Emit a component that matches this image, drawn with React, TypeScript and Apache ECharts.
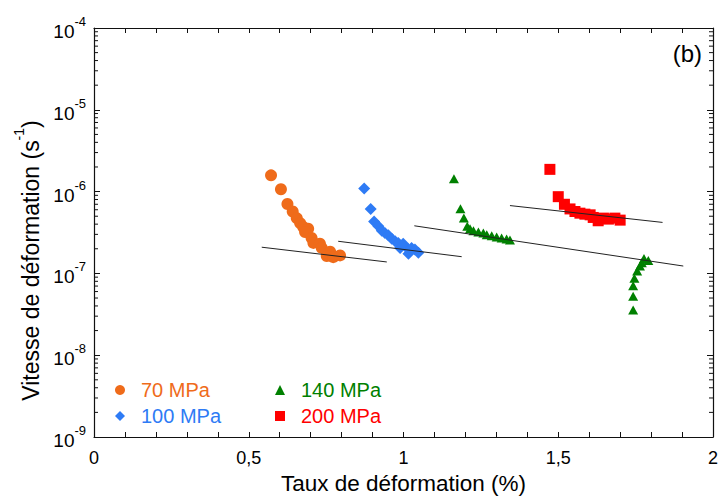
import React, { useEffect, useRef } from "react";
import * as echarts from "echarts";

const FONT = "'Liberation Sans', Arial, Helvetica, sans-serif";

const COLOR_70 = "#EF6B1A";
const COLOR_100 = "#2E7BF5";
const COLOR_140 = "#008000";
const COLOR_200 = "#FF0000";

// x: strain (%), y: strain rate (s^-1)
const series70x = [0.572, 0.604, 0.625, 0.642, 0.655, 0.666, 0.676, 0.692, 0.682, 0.703, 0.709, 0.730, 0.736, 0.763, 0.752, 0.773, 0.795];
const series70y = [1.58e-6, 1.07e-6, 7.06e-7, 5.71e-7, 4.74e-7, 4.12e-7, 3.69e-7, 3.52e-7, 3.21e-7, 2.71e-7, 2.36e-7, 2.30e-7, 2.05e-7, 1.84e-7, 1.63e-7, 1.58e-7, 1.66e-7];

const series100x = [0.873, 0.894, 0.905, 0.919, 0.930, 0.940, 0.951, 0.962, 0.973, 0.983, 0.999, 0.989, 1.016, 1.026, 1.037, 1.048, 1.016];
const series100y = [1.09e-6, 6.14e-7, 4.32e-7, 3.76e-7, 3.33e-7, 3.12e-7, 2.92e-7, 2.66e-7, 2.47e-7, 2.36e-7, 2.30e-7, 2.05e-7, 1.96e-7, 2.05e-7, 1.96e-7, 1.79e-7, 1.74e-7];

const series140Ax = [1.163, 1.184, 1.195, 1.206, 1.215, 1.226, 1.242, 1.258, 1.269, 1.285, 1.301, 1.317, 1.333, 1.344];
const series140Ay = [1.44e-6, 6.18e-7, 4.74e-7, 3.76e-7, 3.52e-7, 3.33e-7, 3.21e-7, 3.12e-7, 2.97e-7, 2.89e-7, 2.79e-7, 2.71e-7, 2.64e-7, 2.56e-7];
const series140Bx = [1.742, 1.742, 1.742, 1.746, 1.755, 1.764, 1.770, 1.777, 1.791];
const series140By = [3.57e-8, 5.24e-8, 7.06e-8, 8.73e-8, 1.07e-7, 1.23e-7, 1.35e-7, 1.52e-7, 1.44e-7];

const series200x = [1.473, 1.500, 1.520, 1.538, 1.554, 1.570, 1.586, 1.603, 1.613, 1.629, 1.646, 1.662, 1.683, 1.700];
const series200y = [1.87e-6, 8.67e-7, 7.00e-7, 6.14e-7, 5.71e-7, 5.45e-7, 5.30e-7, 5.20e-7, 4.83e-7, 4.40e-7, 4.74e-7, 4.61e-7, 4.74e-7, 4.48e-7];

// fitted lines: [x1, x2], [y1, y2]
const fit70x = [0.542, 0.946];
const fit70y = [2.09e-7, 1.38e-7];
const fit100x = [0.789, 1.188];
const fit100y = [2.47e-7, 1.60e-7];
const fit140x = [1.035, 1.904];
const fit140y = [3.82e-7, 1.23e-7];
const fit200x = [1.344, 1.837];
const fit200y = [6.75e-7, 4.20e-7];

const legendNames = ["70 MPa", "100 MPa", "140 MPa", "200 MPa"];
const xTickLabels: Record<string, string> = { "0": "0", "0.5": "0,5", "1": "1", "1.5": "1,5", "2": "2" };
const yMin = 1e-9;
const yMax = 1e-4;

const zip = (xs: number[], ys: number[]) => xs.map((x, i) => [x, ys[i]]);

export default function App() {
  const ref = useRef<HTMLDivElement>(null);

  useEffect(() => {
    if (!ref.current) return;
    const chart = echarts.init(ref.current, undefined, { renderer: "svg" });

    const minorTicks: number[][] = [];
    for (let e = -9; e < -4; e++) {
      for (let m = 2; m <= 9; m++) minorTicks.push([0, m * Math.pow(10, e)]);
    }

    const axisLineStyle = { color: "#111", width: 1.2 };
    const xAxisBase = {
      type: "value",
      min: 0,
      max: 2,
      interval: 0.5,
      axisLine: { show: true, onZero: false, lineStyle: axisLineStyle },
      axisTick: { show: true, inside: true, length: 5, lineStyle: { color: "#111" } },
      minorTick: { show: true, splitNumber: 5, length: 5, lineStyle: { color: "#111" } },
      splitLine: { show: false },
      minorSplitLine: { show: false },
    };
    const yAxisBase = {
      type: "log",
      logBase: 10,
      min: yMin,
      max: yMax,
      axisLine: { show: true, onZero: false, lineStyle: axisLineStyle },
      axisTick: { show: true, inside: true, length: 6, lineStyle: { color: "#111" } },
      minorTick: { show: false },
      splitLine: { show: false },
    };

    const scatterBase = { type: "scatter", z: 2, xAxisIndex: 0, yAxisIndex: 0 };
    const lineBase = {
      type: "line",
      z: 4,
      symbol: "none",
      lineStyle: { color: "#222", width: 1 },
      xAxisIndex: 0,
      yAxisIndex: 0,
    };

    const legendText = { fontSize: 20, fontFamily: FONT, padding: [0, 0, 0, 11] };

    chart.setOption({
      animation: false,
      backgroundColor: "#fff",
      textStyle: { fontFamily: FONT },
      grid: { left: 94, right: 10, top: 28, bottom: 59 },
      xAxis: [
        {
          ...xAxisBase,
          position: "bottom",
          axisLabel: {
            show: true,
            margin: 12,
            fontSize: 18,
            color: "#000",
            fontFamily: FONT,
            formatter: (v: number) => xTickLabels[String(v)] ?? String(v),
          },
          name: "Taux de déformation (%)",
          nameLocation: "middle",
          nameGap: 35,
          nameTextStyle: { fontSize: 22.5, color: "#000", fontFamily: FONT },
        },
        { ...xAxisBase, position: "top", axisLabel: { show: false } },
      ],
      yAxis: [
        {
          ...yAxisBase,
          position: "left",
          axisLabel: {
            show: true,
            margin: 8,
            color: "#000",
            formatter: (v: number) => `{b|10}{s|${Math.round(Math.log10(v))}}`,
            rich: {
              b: { fontSize: 19, fontFamily: FONT, color: "#000", lineHeight: 26, verticalAlign: "bottom" },
              s: { fontSize: 13, fontFamily: FONT, color: "#000", lineHeight: 13, verticalAlign: "top" },
            },
          },
          name: "{n|Vitesse de déformation (s}{s|-1}{n|)}",
          nameLocation: "middle",
          nameGap: 50,
          nameRotate: 90,
          nameTextStyle: {
            color: "#000",
            padding: [0, 56, 0, 0],
            rich: {
              n: { fontSize: 23, fontFamily: FONT, color: "#000", lineHeight: 30, verticalAlign: "bottom" },
              s: { fontSize: 14, fontFamily: FONT, color: "#000", lineHeight: 14, verticalAlign: "top" },
            },
          },
        },
        { ...yAxisBase, position: "right", axisLabel: { show: false } },
      ],
      legend: [
        {
          left: 110,
          top: 375,
          orient: "vertical",
          itemGap: 6,
          itemWidth: 10,
          itemHeight: 10,
          selectedMode: false,
          textStyle: legendText,
          data: [
            { name: legendNames[0], icon: "circle", textStyle: { color: COLOR_70 } },
            { name: legendNames[1], icon: "diamond", textStyle: { color: COLOR_100 } },
          ],
        },
        {
          left: 270,
          top: 375,
          orient: "vertical",
          itemGap: 6,
          itemWidth: 10,
          itemHeight: 10,
          selectedMode: false,
          textStyle: legendText,
          data: [
            { name: legendNames[2], icon: "triangle", textStyle: { color: COLOR_140 } },
            { name: legendNames[3], icon: "rect", textStyle: { color: COLOR_200 } },
          ],
        },
      ],
      graphic: [
        {
          type: "text",
          right: 21,
          top: 41,
          style: { text: "(b)", fontSize: 24, fontFamily: FONT, fill: "#000" },
        },
      ],
      series: [
        { ...scatterBase, name: legendNames[0], symbol: "circle", symbolSize: 12, itemStyle: { color: COLOR_70, opacity: 1 }, data: zip(series70x, series70y) },
        { ...scatterBase, name: legendNames[1], symbol: "diamond", symbolSize: 12, itemStyle: { color: COLOR_100, opacity: 1 }, data: zip(series100x, series100y) },
        {
          ...scatterBase,
          name: legendNames[2],
          symbol: "triangle",
          symbolSize: [10, 9],
          itemStyle: { color: COLOR_140, opacity: 1 },
          data: zip(series140Ax, series140Ay).concat(zip(series140Bx, series140By)),
        },
        { ...scatterBase, name: legendNames[3], symbol: "rect", symbolSize: 11, itemStyle: { color: COLOR_200, opacity: 1 }, data: zip(series200x, series200y) },
        { ...lineBase, data: zip(fit70x, fit70y) },
        { ...lineBase, data: zip(fit100x, fit100y) },
        { ...lineBase, data: zip(fit140x, fit140y) },
        { ...lineBase, data: zip(fit200x, fit200y) },
        {
          type: "custom",
          xAxisIndex: 0,
          yAxisIndex: 0,
          silent: true,
          clip: false,
          z: 5,
          data: minorTicks,
          renderItem: (params: any, api: any) => {
            const y = api.coord([0, api.value(1)])[1];
            const cs = params.coordSys;
            return {
              type: "group",
              children: [
                { type: "line", shape: { x1: cs.x, y1: y, x2: cs.x + 4, y2: y }, style: { stroke: "#111", lineWidth: 1 } },
                { type: "line", shape: { x1: cs.x + cs.width, y1: y, x2: cs.x + cs.width - 4, y2: y }, style: { stroke: "#111", lineWidth: 1 } },
              ],
            };
          },
        },
      ],
    });

    return () => chart.dispose();
  }, []);

  return <div ref={ref} style={{ position: "fixed", left: 0, top: 0, width: 723, height: 500 }} />;
}
